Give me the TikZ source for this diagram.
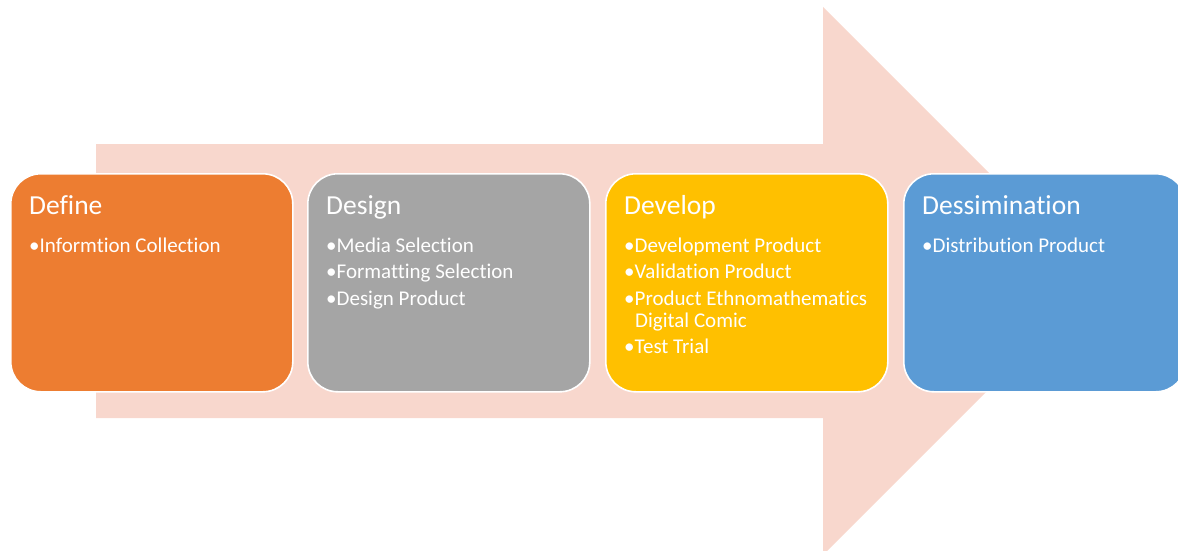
\documentclass[tikz,border=0pt]{standalone}
\usepackage{fontspec}
\setmainfont[Ligatures=NoCommon]{Carlito}
\definecolor{arrowc}{HTML}{F8D7CD}
\definecolor{orangec}{HTML}{ED7D31}
\definecolor{grayc}{HTML}{A5A5A5}
\definecolor{yellowc}{HTML}{FFC000}
\definecolor{bluec}{HTML}{5B9BD5}
\begin{document}
\begin{tikzpicture}[x=1pt,y=-1pt,
  stagebox/.style={draw=white,line width=1.6pt,rounded corners=30pt,minimum width=282pt,minimum height=218pt,anchor=north west,inner sep=0pt},
  title/.style={anchor=base west,inner sep=0pt,text=white,font=\fontsize{27.5}{31}\selectfont},
  item/.style={anchor=base west,inner sep=0pt,text=white,font=\fontsize{21}{25}\selectfont}]
\useasboundingbox (0,0) rectangle (1178,551);
\fill[arrowc] (96,144) -- (823,144) -- (823,7) -- (1097,281) -- (823,555) -- (823,418) -- (96,418) -- cycle;
% boxes
\node[stagebox,fill=orangec] (b1) at (10,173) {};
\node[stagebox,fill=grayc] (b2) at (307,173) {};
\node[stagebox,fill=yellowc] (b3) at (605,173) {};
\node[stagebox,fill=bluec] (b4) at (903,173) {};
% Define
\node[title] (t1) at (29,214) {Define};
\node[item] (i11) at (29,252) {•Informtion Collection};
% Design
\node[title] (t2) at (326,214) {Design};
\node[item] (i21) at (326,252) {•Media Selection};
\node[item] (i22) at (326,278) {•Formatting Selection};
\node[item] (i23) at (326,305) {•Design Product};
% Develop
\node[title] (t3) at (624,214) {Develop};
\node[item] (i31) at (624,252) {•Development Product};
\node[item] (i32) at (624,278) {•Validation Product};
\node[item] (i33) at (624,305) {•Product Ethnomathematics};
\node[item] (i34) at (635,327) {Digital Comic};
\node[item] (i35) at (624,353) {•Test Trial};
% Dessimination
\node[title] (t4) at (922,214) {Dessimination};
\node[item] (i41) at (922,252) {•Distribution Product};
\end{tikzpicture}
\end{document}
